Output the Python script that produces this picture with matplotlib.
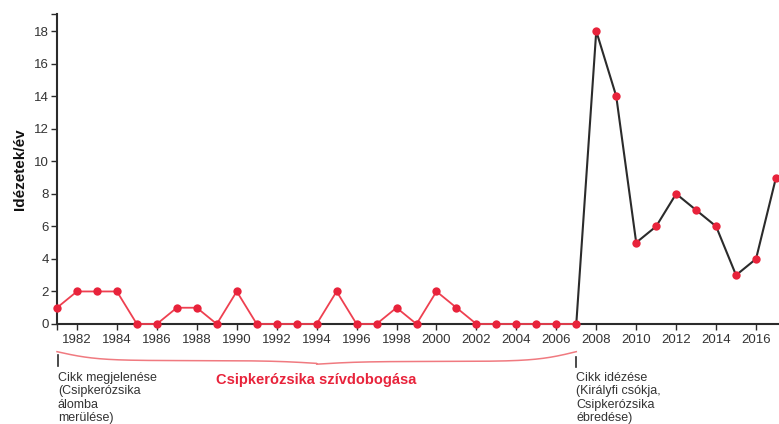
import numpy as np
import matplotlib
matplotlib.use("Agg")
import matplotlib.pyplot as plt

plt.rcParams['font.family'] = ['Liberation Sans', 'DejaVu Sans']

# ---- data ----
years = list(range(1981, 2018))
citations = [1, 2, 2, 2, 0, 0, 1, 1, 0, 2, 0, 0, 0, 0, 2, 0, 0, 1, 0, 2, 1,
             0, 0, 0, 0, 0, 0,
             18, 14, 5, 6, 8, 7, 6, 3, 4, 9]
split_year = 2007
xtick_years = list(range(1982, 2017, 2))
yticks = [0, 2, 4, 6, 8, 10, 12, 14, 16, 18]

RED = '#e8233b'
RED_LINE = '#ee4050'
BRACE = '#f07a80'
DARK = '#2b2b2b'
TEXT = '#333333'

years = np.array(years)
citations = np.array(citations)
early = years <= split_year
late = years >= split_year

fig = plt.figure(figsize=(7.79, 4.24), dpi=100)
ax = fig.add_axes([57 / 779, 100 / 424, 1 - 57 / 779, 310 / 424])

ax.plot(years[early], citations[early], '-', color=RED_LINE, lw=1.3,
        clip_on=False, zorder=3)
ax.plot(years[late], citations[late], '-', color=DARK, lw=1.5,
        clip_on=False, zorder=3)
ax.plot(years, citations, 'o', color=RED, ms=6, mec='none',
        clip_on=False, zorder=4)

ax.set_xlim(1981, 2017.15)
ax.set_ylim(0, 19.05)

for side in ['top', 'right']:
    ax.spines[side].set_visible(False)
for side in ['left', 'bottom']:
    ax.spines[side].set_color(DARK)
    ax.spines[side].set_linewidth(1.5)
    ax.spines[side].set_zorder(2)

ax.set_yticks(yticks)
ax.set_yticks([19.05], minor=True)
ax.set_xticks(xtick_years)
ax.set_xticks([1981], minor=True)
ax.tick_params(axis='both', which='both', colors=DARK, labelcolor=TEXT,
               labelsize=9.5, length=4, width=1.0)
ax.tick_params(axis='x', pad=3)
ax.tick_params(axis='y', pad=2)

ax.set_ylabel('Idézetek/év', fontsize=11, fontweight='bold', color='#111111',
              labelpad=5)

# ---- brace below the axis ----
def half_brace(x, x0, xm, p, q, b1, b2):
    s1 = 1 / (1 + np.exp(-b1 * (x - x0)))
    s2 = 1 / (1 + np.exp(-b2 * (x - xm)))
    return p * (2 * s1 - 1) + q * 2 * s2

x0, x1, xm = 1981.0, 2007.0, 1994.0
xl = np.linspace(x0, xm, 300)
xr = np.linspace(xm, x1, 300)
yl = half_brace(xl, x0, xm, 0.55, 0.17, 1.0, 0.9)
yr = half_brace(x1 - xr, 0, x1 - xm, 0.6, 0.17, 1.0, 0.9)
base = -1.7
ax.plot(np.r_[xl, xr], base - np.r_[yl, yr], color=BRACE, lw=1.1,
        clip_on=False)

# small vertical markers
ax.plot([1981.05, 1981.05], [-1.9, -2.6], color=DARK, lw=1.2, clip_on=False)
ax.plot([2007, 2007], [-2.0, -2.65], color=DARK, lw=1.2, clip_on=False)

ax.text(1981.05, -2.95, 'Cikk megjelenése\n(Csipkerózsika\nálomba\nmerülése)',
        fontsize=9, color=TEXT, va='top', ha='left', linespacing=1.15)
ax.text(2007.0, -2.95, 'Cikk idézése\n(Királyfi csókja,\nCsipkerózsika\nébredése)',
        fontsize=9, color=TEXT, va='top', ha='left', linespacing=1.15)
ax.text(1994.0, -3.0, 'Csipkerózsika szívdobogása', fontsize=10.5,
        fontweight='bold', color=RED, va='top', ha='center')

fig.savefig('out.png', dpi=100)
